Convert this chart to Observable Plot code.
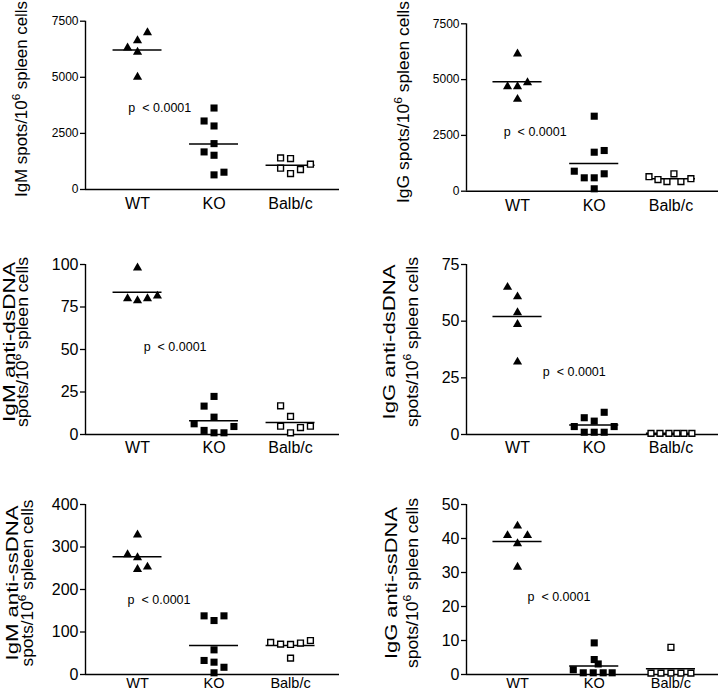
<!DOCTYPE html>
<html><head><meta charset="utf-8">
<script src="https://cdn.jsdelivr.net/npm/d3@7"></script>
<script src="https://cdn.jsdelivr.net/npm/@observablehq/plot@0.6"></script>
<style>
body{margin:0;background:#fff}
#chart{position:relative;width:720px;height:692px;overflow:hidden;font-family:Arial,"Liberation Sans",sans-serif}
#chart svg{position:absolute}
</style>
</head><body><div id="chart"></div>
<script>
const groups = ["WT", "KO", "Balb/c"];

// Panel A: IgM spots
const igmSpotsWT = [6313, 6640, 6995, 6121, 5009];
const igmSpotsWTLane = [-1, 0, 1, 0, 0];
const igmSpotsKO = [3631, 3053, 2831, 2045, 1675, 1526, 652, 771];
const igmSpotsKOLane = [0, -1, 0, 0, -1, 0, 0, 1];
const igmSpotsBalbc = [1408, 1378, 948, 711, 889, 1126];
const igmSpotsBalbcLane = [-1, 0, -1, 0, 1, 2];

// Panel B: IgG spots
const iggSpotsWT = [6155, 4691, 4691, 4870, 4123];
const iggSpotsWTLane = [0, -1, 0, 1, 0];
const iggSpotsKO = [3360, 1747, 1823, 896, 600, 600, 780, 108];
const iggSpotsKOLane = [0, 0, 1, -2, -1, 0, 1, 0];
const iggSpotsBalbc = [650, 520, 430, 780, 430, 560];
const iggSpotsBalbcLane = [-2.2, -1.3, -0.4, 0.3, 1, 2];

// Panel C: IgM anti-dsDNA
const igmDsWT = [98, 80, 78.8, 80, 81.5];
const igmDsWTLane = [0, -1, 0, 1, 2];
const igmDsKO = [22.4, 16.7, 10.2, 6.3, 4.7, 2.4, 1.0, 1.0];
const igmDsKOLane = [0, -1, 0, -2, 2, -1, 0, 1];
const igmDsBalbc = [16.9, 10.6, 4.9, 4.1, 4.9, 1.0];
const igmDsBalbcLane = [-1, 0, -1, 1, 2, 0];

// Panel D: IgG anti-dsDNA
const iggDsWT = [65, 60.8, 53.8, 48.6, 32];
const iggDsWTLane = [-1, 0, 0, 0, 0];
const iggDsKO = [9.8, 7.4, 5.9, 3.5, 3.5, 1.0, 1.0, 1.0];
const iggDsKOLane = [1, -1, 0, -2, 2, -1, 0, 1];
const iggDsBalbc = [0.5, 0.5, 0.5, 0.5, 0.5, 0.5];
const iggDsBalbcLane = [-2, -1.1, -0.2, 0.6, 1.3, 2.1];

// Panel E: IgM anti-ssDNA
const igmSsWT = [328.5, 282, 275, 247.6, 253];
const igmSsWTLane = [0, -1, 0, 0, 1];
const igmSsKO = [138, 138, 127, 58, 33, 29, 17, 4];
const igmSsKOLane = [-1, 1, 0, 0, -1, 0, 1, 0];
const igmSsBalbc = [75.5, 71.5, 70.7, 74, 80, 38.5];
const igmSsBalbcLane = [-2, -1, 0, 1, 2, 0];

// Panel F: IgG anti-ssDNA
const iggSsWT = [43.7, 40.9, 40.9, 38.5, 31.6];
const iggSsWTLane = [0, -1, 1, 0, 0];
const iggSsKO = [9.3, 4.4, 3.1, 1.4, 0.5, 0.5, 0.5, 0.5];
const iggSsKOLane = [0, 0, 0.4, -2.1, -1.1, -0.1, 0.9, 1.8];
const iggSsBalbc = [8.0, 0.4, 0.4, 0.4, 0.4, 0.4];
const iggSsBalbcLane = [0, -2, -1, 0, 1, 2];

// Tick labels
const ticksSpots = [0, 2500, 5000, 7500];
const ticksIgmDs = [0, 25, 50, 75, 100];
const ticksIggDs = [0, 25, 50, 75];
const ticksIgmSs = [0, 100, 200, 300, 400];
const ticksIggSs = [0, 10, 20, 30, 40, 50];

const pText = "p  < 0.0001";

const LANE = 0.13;
const leftX = [-0.68, 2.64];
const rightX = [-0.665, 2.62];

const panels = [
  {left:0, top:0, w:360, h:215, mt:20.7, mb:26, ml:85, mr:21, xd:leftX, ymax:7500, ticks:ticksSpots, tf:12, xpad:8, xf:16,
   series:[[igmSpotsWT,igmSpotsWTLane],[igmSpotsKO,igmSpotsKOLane],[igmSpotsBalbc,igmSpotsBalbcLane]],
   titles:[{pre:"IgM spots/10", post:" spleen cells", x:27, cy:99, len:196}], p:{x:-0.12, y:3654}},
  {left:360, top:0, w:360, h:215, mt:23.3, mb:24.3, ml:106, mr:2, xd:rightX, ymax:7500, ticks:ticksSpots, tf:12, xpad:8, xf:16,
   series:[[iggSpotsWT,iggSpotsWTLane],[iggSpotsKO,iggSpotsKOLane],[iggSpotsBalbc,iggSpotsBalbcLane]],
   titles:[{pre:"IgG spots/10", post:" spleen cells", x:49, cy:102, len:202}], p:{x:-0.18, y:2630}},
  {left:0, top:225, w:360, h:230, mt:39, mb:21, ml:85, mr:21, xd:leftX, ymax:100, ticks:ticksIgmDs, tf:16, xpad:7, xf:16,
   series:[[igmDsWT,igmDsWTLane],[igmDsKO,igmDsKOLane],[igmDsBalbc,igmDsBalbcLane]],
   titles:[{pre:"IgM anti-dsDNA", x:15, cy:117, len:160},{pre:"spots/10", post:" spleen cells", x:28, cy:117, len:170}], p:{x:0.08, y:51.5}},
  {left:360, top:225, w:360, h:230, mt:39, mb:21, ml:106, mr:2, xd:rightX, ymax:75, ticks:ticksIggDs, tf:16, xpad:7, xf:16,
   series:[[iggDsWT,iggDsWTLane],[iggDsKO,iggDsKOLane],[iggDsBalbc,iggDsBalbcLane]],
   titles:[{pre:"IgG anti-dsDNA", x:35, cy:117, len:155},{pre:"spots/10", post:" spleen cells", x:58, cy:117, len:170}], p:{x:0.33, y:27.5}},
  {left:0, top:460, w:360, h:232, mt:44, mb:18, ml:85, mr:21, xd:leftX, ymax:400, ticks:ticksIgmSs, tf:16, xpad:3, xf:14.5,
   series:[[igmSsWT,igmSsWTLane],[igmSsKO,igmSsKOLane],[igmSsBalbc,igmSsBalbcLane]],
   titles:[{pre:"IgM anti-ssDNA", x:18, cy:123, len:155},{pre:"spots/10", post:" spleen cells", x:33, cy:123, len:167}], p:{x:-0.13, y:174.5}},
  {left:360, top:460, w:360, h:232, mt:44, mb:18, ml:106, mr:2, xd:rightX, ymax:50, ticks:ticksIggSs, tf:16, xpad:3, xf:14.5,
   series:[[iggSsWT,iggSsWTLane],[iggSsKO,iggSsKOLane],[iggSsBalbc,iggSsBalbcLane]],
   titles:[{pre:"IgG anti-ssDNA", x:37, cy:123, len:152},{pre:"spots/10", post:" spleen cells", x:58, cy:123, len:170}], p:{x:0.13, y:22.8}}
];

const chart = document.getElementById("chart");

for (const cfg of panels) {
  const pts = [];
  cfg.series.forEach(([vals, lanes], gi) => vals.forEach((v, i) => pts.push({g: gi, x: gi + lanes[i] * LANE, y: v})));
  const means = cfg.series.map(([vals], gi) => ({g: gi, m: d3.mean(vals)}));
  const svg = Plot.plot({
    width: cfg.w, height: cfg.h,
    marginTop: cfg.mt, marginBottom: cfg.mb, marginLeft: cfg.ml, marginRight: cfg.mr,
    style: {fontFamily: 'Arial, "Liberation Sans", sans-serif', background: "transparent", overflow: "visible", color: "#000"},
    x: {type: "linear", domain: cfg.xd, axis: null},
    y: {domain: [0, cfg.ymax], axis: null},
    marks: [
      Plot.axisY({ticks: cfg.ticks, tickSize: 5, tickPadding: 2, fontSize: cfg.tf, tickFormat: d => String(d), label: null, strokeWidth: 1.3}),
      Plot.ruleX([cfg.xd[0]], {y1: 0, y2: cfg.ymax, stroke: "#000", strokeWidth: 1.4}),
      Plot.ruleY([0], {stroke: "#000", strokeWidth: 1.4}),
      Plot.axisX({ticks: [0, 1, 2], tickFormat: i => groups[i], tickSize: 0, tickPadding: cfg.xpad, fontSize: cfg.xf, label: null}),
      Plot.ruleY(means, {y: "m", x1: d => d.g - 0.32, x2: d => d.g + 0.32, stroke: "#000", strokeWidth: 1.5}),
      Plot.dot(pts.filter(d => d.g === 0), {x: "x", y: "y", symbol: "triangle", r: 3.4, fill: "#000", stroke: "none"}),
      Plot.dot(pts.filter(d => d.g === 1), {x: "x", y: "y", symbol: "square", r: 4, fill: "#000", stroke: "none"}),
      Plot.dot(pts.filter(d => d.g === 2), {x: "x", y: "y", symbol: "square", r: 3.3, fill: "#fff", stroke: "#000", strokeWidth: 1.4}),
      Plot.text([cfg.p], {x: "x", y: "y", text: () => pText, textAnchor: "start", fontSize: 12.5, fill: "#000"})
    ]
  });
  svg.style.left = cfg.left + "px";
  svg.style.top = cfg.top + "px";
  const s = d3.select(svg);
  for (const t of cfg.titles) {
    const txt = s.append("text")
      .attr("transform", `translate(${t.x},${t.cy}) rotate(-90)`)
      .attr("text-anchor", "middle")
      .attr("font-size", 16)
      .attr("fill", "#000")
      .attr("textLength", t.len)
      .attr("lengthAdjust", "spacingAndGlyphs");
    txt.append("tspan").text(t.pre);
    if (t.post) {
      txt.append("tspan").attr("dy", -7).attr("font-size", 11).text("6");
      txt.append("tspan").attr("dy", 7).text(t.post);
    }
  }
  chart.appendChild(svg);
}
</script>
</body></html>
